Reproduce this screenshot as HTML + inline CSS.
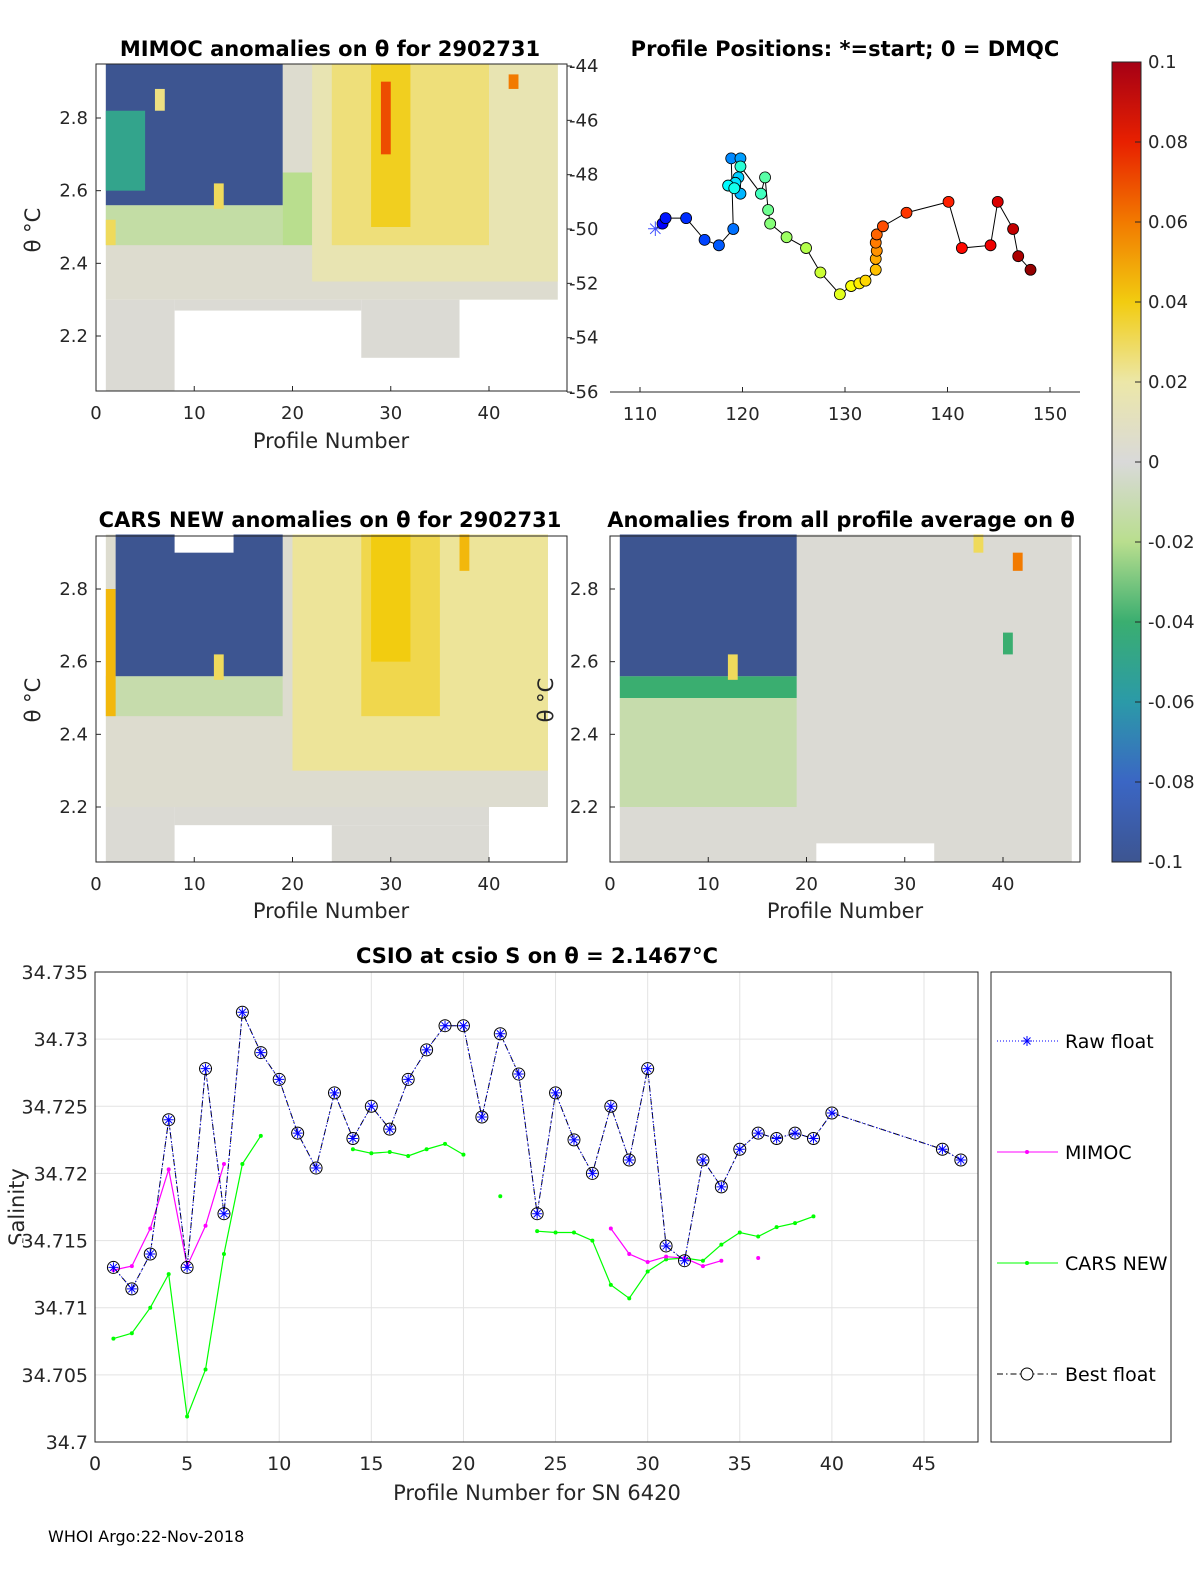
<!DOCTYPE html>
<html><head><meta charset="utf-8"><style>
body{margin:0;background:#fff;}
svg{display:block;font-family:"DejaVu Sans","Liberation Sans",sans-serif;}
</style></head><body>
<svg id="fig" width="1200" height="1575" viewBox="0 0 1200 1575" xmlns="http://www.w3.org/2000/svg">
<defs>
<linearGradient id="cbar" x1="0" y1="1" x2="0" y2="0">
<stop offset="0" stop-color="#3d5591"/><stop offset="0.1" stop-color="#3b66c4"/><stop offset="0.2" stop-color="#2b9aa8"/><stop offset="0.3" stop-color="#3aae70"/><stop offset="0.4" stop-color="#b9de8e"/><stop offset="0.5" stop-color="#d9d9d9"/><stop offset="0.6" stop-color="#ece7a8"/><stop offset="0.7" stop-color="#f2cc10"/><stop offset="0.8" stop-color="#f27a00"/><stop offset="0.9" stop-color="#e82000"/><stop offset="1" stop-color="#a50015"/>
</linearGradient>
</defs>
<g id="root"></g>
</svg>
<script>
// ---- Data ----
const cmapVals=[-0.1,-0.08,-0.06,-0.04,-0.02,0,0.02,0.04,0.06,0.08,0.1];
const cmapCols=["#3d5591","#3b66c4","#2b9aa8","#3aae70","#b9de8e","#d9d9d9","#ece7a8","#f2cc10","#f27a00","#e82000","#a50015"];
// zones: [profile0, profile1, theta0, theta1, anomaly]
const mimocZones=[[1,8,2.05,2.3,0.002],[8,27,2.27,2.3,0.002],[27,37,2.14,2.3,0.002],[1,47,2.3,2.95,0.004],[1,19,2.45,2.56,-0.014],[19,22,2.45,2.65,-0.02],[22,47,2.35,2.95,0.016],[24,40,2.45,2.95,0.026],[28,32,2.5,2.95,0.038],[29,30,2.7,2.9,0.07],[1,19,2.56,2.95,-0.1],[1,5,2.6,2.82,-0.05],[6,7,2.82,2.88,0.025],[12,13,2.55,2.62,0.03],[42,43,2.88,2.92,0.06],[1,2,2.45,2.52,0.03]];
const carsZones=[[1,8,2.05,2.2,0.002],[8,40,2.15,2.2,0.002],[24,40,2.05,2.15,0.002],[1,46,2.2,2.95,0.004],[1,19,2.45,2.56,-0.012],[20,46,2.3,2.95,0.022],[27,35,2.45,2.95,0.032],[28,32,2.6,2.95,0.04],[37,38,2.85,2.95,0.045],[1,2,2.45,2.8,0.045],[2,19,2.56,2.95,-0.1],[8,14,2.9,2.95,null],[12,13,2.55,2.62,0.03]];
const allZones=[[1,47,2.05,2.2,0.002],[1,47,2.2,2.95,0.002],[1,19,2.2,2.5,-0.012],[1,19,2.5,2.56,-0.04],[1,19,2.56,2.95,-0.1],[12,13,2.55,2.62,0.03],[41,42,2.85,2.9,0.06],[37,38,2.9,2.95,0.03],[40,41,2.62,2.68,-0.04],[21,33,2.05,2.1,null]];
// profile positions (lon, lat)
const posLon=[111.5,112.2,112.5,114.5,116.3,117.7,119.1,118.9,119.8,119.8,119.6,119.3,118.6,119.2,119.8,121.8,122.2,122.5,122.7,124.3,126.2,127.6,129.5,130.6,131.4,132.0,133.0,133.0,133.1,133.0,133.1,133.7,136.0,140.1,141.4,144.2,144.9,146.4,146.9,148.1];
const posLat=[-50.0,-49.8,-49.6,-49.6,-50.4,-50.6,-50.0,-47.4,-47.4,-48.7,-48.1,-48.3,-48.4,-48.5,-47.7,-48.7,-48.1,-49.3,-49.8,-50.3,-50.7,-51.6,-52.4,-52.1,-52.0,-51.9,-51.5,-51.1,-50.8,-50.5,-50.2,-49.9,-49.4,-49.0,-50.7,-50.6,-49.0,-50.0,-51.0,-51.5];
// CSIO chart
const bestX=[1,2,3,4,5,6,7,8,9,10,11,12,13,14,15,16,17,18,19,20,21,22,23,24,25,26,27,28,29,30,31,32,33,34,35,36,37,38,39,40,46,47];
const bestY=[34.713,34.7114,34.714,34.724,34.713,34.7278,34.717,34.732,34.729,34.727,34.723,34.7204,34.726,34.7226,34.725,34.7233,34.727,34.7292,34.731,34.731,34.7242,34.7304,34.7274,34.717,34.726,34.7225,34.72,34.725,34.721,34.7278,34.7146,34.7135,34.721,34.719,34.7218,34.723,34.7226,34.723,34.7226,34.7245,34.7218,34.721];
const mimocX=[1,2,3,4,5,6,7,null,28,29,30,31,32,33,34,null,36];
const mimocY=[34.7128,34.7131,34.7159,34.7203,34.7131,34.7161,34.7207,null,34.7159,34.714,34.7134,34.7138,34.7137,34.7131,34.7135,null,34.7137];
const carsX=[1,2,3,4,5,6,7,8,9,null,14,15,16,17,18,19,20,null,22,null,24,25,26,27,28,29,30,31,32,33,34,35,36,37,38,39];
const carsY=[34.7077,34.7081,34.71,34.7125,34.7019,34.7054,34.714,34.7207,34.7228,null,34.7218,34.7215,34.7216,34.7213,34.7218,34.7222,34.7214,null,34.7183,null,34.7157,34.7156,34.7156,34.715,34.7117,34.7107,34.7127,34.7136,34.7137,34.7135,34.7147,34.7156,34.7153,34.716,34.7163,34.7168];
const csioYTicks=[34.7,34.705,34.71,34.715,34.72,34.725,34.73,34.735];
const csioXTicks=[0,5,10,15,20,25,30,35,40,45];

// ---- Helpers ----
const NS="http://www.w3.org/2000/svg";
const root=document.getElementById('root');
function mk(tag,attrs,parent,text){const e=document.createElementNS(NS,tag);for(const k in attrs)e.setAttribute(k,attrs[k]);if(text!==undefined)e.textContent=text;(parent||root).appendChild(e);return e;}
function hex2rgb(h){return [parseInt(h.substr(1,2),16),parseInt(h.substr(3,2),16),parseInt(h.substr(5,2),16)];}
function cmap(v){if(v<=cmapVals[0])return cmapCols[0];for(let i=0;i<cmapVals.length-1;i++){if(v<=cmapVals[i+1]){const t=(v-cmapVals[i])/(cmapVals[i+1]-cmapVals[i]);const a=hex2rgb(cmapCols[i]),b=hex2rgb(cmapCols[i+1]);return 'rgb('+a.map((x,j)=>Math.round(x+(b[j]-x)*t)).join(',')+')';}}return cmapCols[cmapCols.length-1];}
function jet(t){const c=v=>Math.round(255*Math.max(0,Math.min(1,v)));return 'rgb('+c(1.5-Math.abs(4*t-3))+','+c(1.5-Math.abs(4*t-2))+','+c(1.5-Math.abs(4*t-1))+')';}

function heatPanel(name,zones,box,xTicks,yTicks){
  const sx=p=>box.x0+(p/40)*(box.x40-box.x0);
  const sy=t=>box.y28+(2.8-t)*(box.y22-box.y28)/0.6;
  const g=mk('g',{});
  
  
  zones.forEach(z=>{
    const r=mk('rect',{x:sx(z[0]),y:sy(z[3]),width:sx(z[1])-sx(z[0]),height:sy(z[2])-sy(z[3]),fill:z[4]===null?'#fff':cmap(z[4])},g);
    
    
  });
  const fr=mk('rect',{x:box.x0,y:box.top,width:box.right-box.x0,height:box.bottom-box.top,fill:'none',stroke:'#262626','stroke-width':1},g);
  
  
  xTicks.forEach(t=>{mk('line',{x1:sx(t),x2:sx(t),y1:box.bottom,y2:box.bottom-5,stroke:'#262626'},g);
    const tx=mk('text',{x:sx(t),y:box.bottom+28,'font-size':18,'text-anchor':'middle',fill:'#262626'},g,t);
    });
  yTicks.forEach(t=>{mk('line',{x1:box.x0,x2:box.x0+5,y1:sy(t),y2:sy(t),stroke:'#262626'},g);
    if(box.leftLabels){const tx=mk('text',{x:box.x0-8,y:sy(t)+6,'font-size':18,'text-anchor':'end',fill:'#262626'},g,t.toFixed(1));
    }});
  return {sx,sy,g};
}

const b1={x0:96,x40:489,right:567,top:64,bottom:391,y28:118,y22:336,leftLabels:true};
heatPanel('mimoc-heatmap',mimocZones,b1,[0,10,20,30,40],[2.2,2.4,2.6,2.8]);
const b2={x0:96,x40:489,right:567,top:536,bottom:862,y28:589,y22:807,leftLabels:true};
heatPanel('cars-heatmap',carsZones,b2,[0,10,20,30,40],[2.2,2.4,2.6,2.8]);
const b3={x0:610,x40:1003,right:1080,top:536,bottom:862,y28:589,y22:807,leftLabels:false};
heatPanel('all-average-heatmap',allZones,b3,[0,10,20,30,40],[2.2,2.4,2.6,2.8]);
[2.2,2.4,2.6,2.8].forEach(t=>{const y=589+(2.8-t)*218/0.6;
 const tx=mk('text',{x:570,y:y+6,'font-size':18,fill:'#262626'},root,t.toFixed(1));
 });

function txt(name,x,y,s,opts){const t=mk('text',Object.assign({x:x,y:y,fill:'#000','font-size':18},opts||{}),root,s);return t;}
txt('mimoc-title',330,56,'MIMOC anomalies on θ  for 2902731',{'font-size':21,'font-weight':'bold','text-anchor':'middle'});
txt('positions-title',845,56,'Profile Positions: *=start; 0 = DMQC',{'font-size':21,'font-weight':'bold','text-anchor':'middle'});
txt('cars-title',330,527,'CARS NEW anomalies on θ for 2902731',{'font-size':21,'font-weight':'bold','text-anchor':'middle'});
txt('all-title',841,527,'Anomalies from all profile average on θ',{'font-size':21,'font-weight':'bold','text-anchor':'middle'});
txt('x-axis-title',331,448,'Profile Number',{'font-size':21,'text-anchor':'middle',fill:'#262626'});
txt('x-axis-title',331,918,'Profile Number',{'font-size':21,'text-anchor':'middle',fill:'#262626'});
txt('x-axis-title',845,918,'Profile Number',{'font-size':21,'text-anchor':'middle',fill:'#262626'});
txt('y-axis-title',40,230,'θ °C',{'font-size':21,'text-anchor':'middle',fill:'#262626',transform:'rotate(-90 40 230)'});
txt('y-axis-title',40,700,'θ °C',{'font-size':21,'text-anchor':'middle',fill:'#262626',transform:'rotate(-90 40 700)'});
txt('y-axis-title',553,700,'θ °C',{'font-size':21,'text-anchor':'middle',fill:'#262626',transform:'rotate(-90 553 700)'});

// ---- Positions ----
const plon=v=>640+(v-110)*10.25;
const plat=v=>66+(-44-v)*27.17;
mk('line',{x1:567,x2:567,y1:64,y2:392,stroke:'#262626'});
mk('line',{x1:610,x2:1080,y1:392,y2:392,stroke:'#262626'});
[-44,-46,-48,-50,-52,-54,-56].forEach(v=>{mk('line',{x1:567,x2:572,y1:plat(v),y2:plat(v),stroke:'#262626'});txt('lat-tick-label',569,plat(v)+6,v,{fill:'#262626'});});
[110,120,130,140,150].forEach(v=>{mk('line',{x1:plon(v),x2:plon(v),y1:392,y2:387,stroke:'#262626'});txt('lon-tick-label',plon(v),420,v,{'text-anchor':'middle',fill:'#262626'});});
const posPath=posLon.map((v,i)=>(i?'L':'M')+plon(v)+','+plat(posLat[i])).join(' ');
const pl=mk('path',{d:posPath,fill:'none',stroke:'#000','stroke-width':1});

posLon.forEach((v,i)=>{const t=0.1+0.88*i/(posLon.length-1);
 if(i===0){const s=mk('text',{x:plon(v),y:plat(posLat[i])+7,'font-size':20,'text-anchor':'middle',fill:'#4050ff'},root,'✳');return;}
 const c=mk('circle',{cx:plon(v),cy:plat(posLat[i]),r:5.5,fill:jet(t),stroke:'#000','stroke-width':0.8});
 });

// ---- Colorbar ----
const cb=mk('rect',{x:1112,y:62,width:29,height:800,fill:'url(#cbar)',stroke:'#262626'});

const cbLabels=['-0.1','-0.08','-0.06','-0.04','-0.02','0','0.02','0.04','0.06','0.08','0.1'];
cbLabels.forEach((l,i)=>{const y=862-i*80;mk('line',{x1:1135,x2:1141,y1:y,y2:y,stroke:'#262626'});txt('colorbar-tick-label',1148,y+6,l,{fill:'#262626'});});

// ---- CSIO chart ----
const cx=v=>95+v*(924-95)/45;
const cy=v=>1442-(v-34.7)*(1442-972)/0.035;
const csioFrame=mk('rect',{x:95,y:972,width:883,height:470,fill:'#fff',stroke:'#262626'});

txt('csio-y-axis-title',24,1207,'Salinity',{'font-size':21,'text-anchor':'middle',fill:'#262626',transform:'rotate(-90 24 1207)'});
csioYTicks.forEach(v=>{mk('line',{x1:95,x2:978,y1:cy(v),y2:cy(v),stroke:'#e3e3e3'});
 const t=mk('text',{x:88,y:cy(v)+7,'font-size':19,'text-anchor':'end',fill:'#262626',stroke:'#fff','stroke-width':4,'paint-order':'stroke'},root,v.toFixed(3).replace(/0+$/,'').replace(/\.$/,''));
 });
csioXTicks.forEach(v=>{mk('line',{x1:cx(v),x2:cx(v),y1:972,y2:1442,stroke:'#e3e3e3'});txt('x-tick-label',cx(v),1470,v,{'font-size':19,'text-anchor':'middle',fill:'#262626'});});
mk('rect',{x:95,y:972,width:883,height:470,fill:'none',stroke:'#262626'});
txt('csio-title',537,963,'CSIO at csio S on θ = 2.1467°C',{'font-size':21,'font-weight':'bold','text-anchor':'middle'});
txt('csio-x-axis-title',537,1500,'Profile Number for SN 6420',{'font-size':21,'text-anchor':'middle',fill:'#262626'});
function seriesPath(xs,ys){let d='',pen=false;xs.forEach((x,i)=>{if(x===null){pen=false;return;}d+=(pen?'L':'M')+cx(x)+','+cy(ys[i])+' ';pen=true;});return d;}
const cl=mk('path',{d:seriesPath(carsX,carsY),fill:'none',stroke:'#00ff00','stroke-width':1.2});

carsX.forEach((x,i)=>{if(x===null)return;const p=mk('circle',{cx:cx(x),cy:cy(carsY[i]),r:2,fill:'#00ff00'});});
const ml=mk('path',{d:seriesPath(mimocX,mimocY),fill:'none',stroke:'#ff00ff','stroke-width':1.2});

mimocX.forEach((x,i)=>{if(x===null)return;const p=mk('circle',{cx:cx(x),cy:cy(mimocY[i]),r:2,fill:'#ff00ff'});});
const bl=mk('path',{d:seriesPath(bestX,bestY),fill:'none',stroke:'#000','stroke-width':1,'stroke-dasharray':'6 3 1.5 3'});

const rl=mk('path',{d:seriesPath(bestX,bestY),fill:'none',stroke:'#0000ff','stroke-width':1,'stroke-dasharray':'1 2'});

bestX.forEach((x,i)=>{const X=cx(x),Y=cy(bestY[i]);
 const c=mk('circle',{cx:X,cy:Y,r:6,fill:'none',stroke:'#000','stroke-width':1});
 const s=mk('path',{d:`M${X-5},${Y}H${X+5}M${X},${Y-5}V${Y+5}M${X-3.5},${Y-3.5}L${X+3.5},${Y+3.5}M${X-3.5},${Y+3.5}L${X+3.5},${Y-3.5}`,stroke:'#0000ff','stroke-width':1});
 });
const lg=mk('rect',{x:991,y:972,width:180,height:470,fill:'#fff',stroke:'#262626'});

mk('line',{x1:997,x2:1058,y1:1041,y2:1041,stroke:'#0000ff','stroke-dasharray':'1 2'});
mk('path',{d:'M1022,1041H1032M1027,1036V1046M1023.5,1037.5L1030.5,1044.5M1023.5,1044.5L1030.5,1037.5',stroke:'#0000ff'});
txt('legend-entry',1065,1048,'Raw float',{'font-size':19,fill:'#000'});
mk('line',{x1:997,x2:1058,y1:1152,y2:1152,stroke:'#ff00ff'});mk('circle',{cx:1027,cy:1152,r:2,fill:'#ff00ff'});
txt('legend-entry',1065,1159,'MIMOC',{'font-size':19,fill:'#000'});
mk('line',{x1:997,x2:1058,y1:1263,y2:1263,stroke:'#00ff00'});mk('circle',{cx:1027,cy:1263,r:2,fill:'#00ff00'});
txt('legend-entry',1065,1270,'CARS NEW',{'font-size':19,fill:'#000'});
mk('line',{x1:997,x2:1058,y1:1374,y2:1374,stroke:'#000','stroke-dasharray':'6 3 1.5 3'});mk('circle',{cx:1027,cy:1374,r:6,fill:'#fff',stroke:'#000'});
txt('legend-entry',1065,1381,'Best float',{'font-size':19,fill:'#000'});
txt('footer-note',48,1542,'WHOI Argo:22-Nov-2018',{'font-size':16,fill:'#000'});
</script>
</body></html>
